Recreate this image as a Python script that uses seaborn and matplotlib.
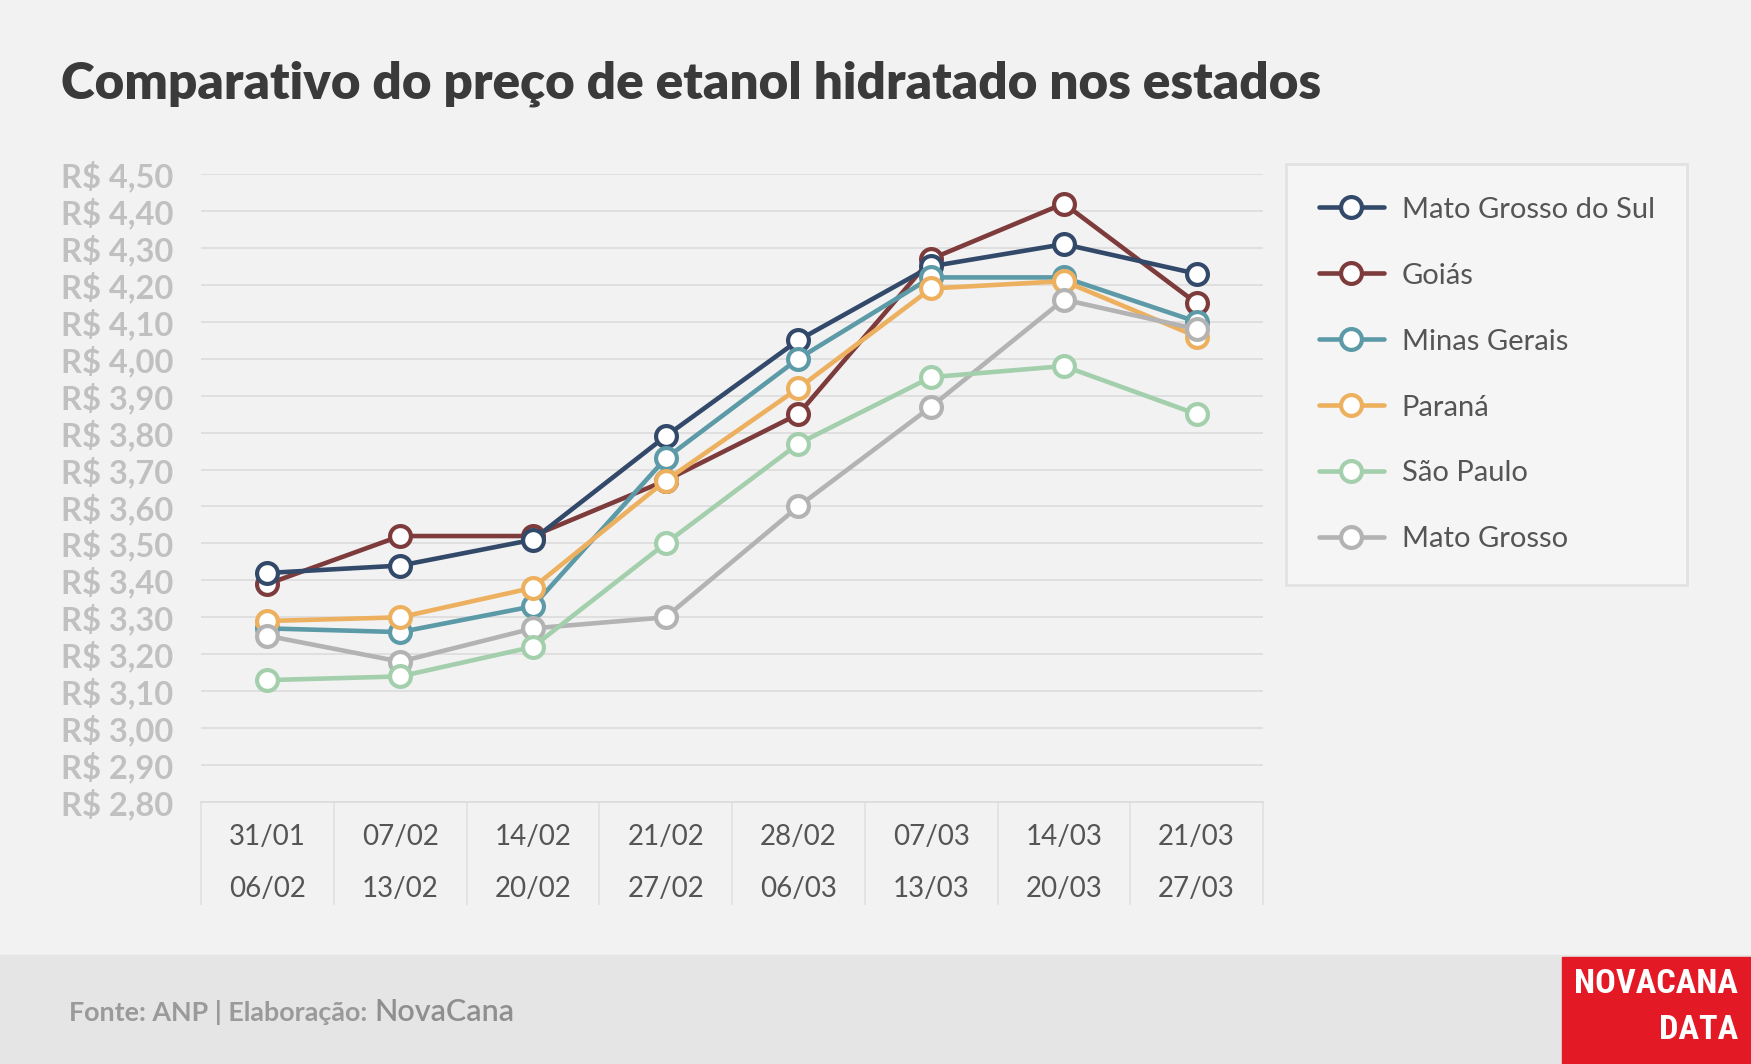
import matplotlib
matplotlib.use("Agg")
import matplotlib.pyplot as plt
import seaborn as sns
import pandas as pd
from matplotlib import font_manager
from matplotlib.lines import Line2D
from matplotlib.patches import Rectangle

# ==========================
# DADOS (preço médio R$/litro)
# ==========================
semanas = ["31/01\n06/02", "07/02\n13/02", "14/02\n20/02", "21/02\n27/02",
           "28/02\n06/03", "07/03\n13/03", "14/03\n20/03", "21/03\n27/03"]

mato_grosso_do_sul = [3.42, 3.44, 3.51, 3.79, 4.05, 4.25, 4.31, 4.23]
goias = [3.39, 3.52, 3.52, 3.67, 3.85, 4.27, 4.42, 4.15]
minas_gerais = [3.27, 3.26, 3.33, 3.73, 4.00, 4.22, 4.22, 4.10]
parana = [3.29, 3.30, 3.38, 3.67, 3.92, 4.19, 4.21, 4.06]
sao_paulo = [3.13, 3.14, 3.22, 3.50, 3.77, 3.95, 3.98, 3.85]
mato_grosso = [3.25, 3.18, 3.27, 3.30, 3.60, 3.87, 4.16, 4.08]

estados = ["Mato Grosso do Sul", "Goiás", "Minas Gerais", "Paraná", "São Paulo", "Mato Grosso"]
cores = ["#32496a", "#7e3b3b", "#5c9aa7", "#ecb05f", "#a3cfac", "#b3b3b3"]
camadas = [3, 2, 4, 5, 7, 6]  # ordem de desenho

y_ticks = [2.8, 2.9, 3.0, 3.1, 3.2, 3.3, 3.4, 3.5, 3.6, 3.7, 3.8, 3.9,
           4.0, 4.1, 4.2, 4.3, 4.4, 4.5]

valores = [mato_grosso_do_sul, goias, minas_gerais, parana, sao_paulo, mato_grosso]
df = pd.concat(
    [pd.DataFrame({"semana": semanas, "preco": v, "estado": e}) for e, v in zip(estados, valores)],
    ignore_index=True,
)

# ==========================
# ESTILO
# ==========================
sns.set_style("white")
plt.rcParams["font.family"] = ["Lato", "DejaVu Sans"]

fundo = "#f2f2f2"
fig = plt.figure(figsize=(17.51, 10.64), dpi=100, facecolor=fundo)
ax = fig.add_axes([0.1148, 0.2462, 0.6065, 0.5903], facecolor=fundo)

# ==========================
# LINHAS
# ==========================
sns.lineplot(
    data=df, x="semana", y="preco", hue="estado", hue_order=estados,
    palette=cores, marker="o", markersize=15, markerfacecolor="white",
    markeredgewidth=3, linewidth=3.3, legend=False, sort=False, ax=ax,
)
for linha, z in zip(ax.lines, camadas):
    linha.set_markeredgecolor(linha.get_color())
    linha.set_zorder(z)

ax.set_xlim(-0.5, 7.5)
ax.set_ylim(2.8, 4.5)
ax.set_xlabel("")
ax.set_ylabel("")

ax.set_yticks(y_ticks)
ax.set_yticklabels([f"R$ {v:.2f}".replace(".", ",") for v in y_ticks],
                   fontsize=23.5, fontweight="bold", color="#c0c0c0")
ax.set_xticks(range(len(semanas)))
ax.set_xticklabels(semanas, fontsize=20, color="#555555", linespacing=2.25)
ax.set_xticks([i - 0.5 for i in range(len(semanas) + 1)], minor=True)

ax.tick_params(axis="y", length=0, pad=20)
ax.tick_params(axis="x", which="major", length=0, pad=15.5)
ax.tick_params(axis="x", which="minor", bottom=True, length=74, width=1.2,
               color="#e0e0e0")

ax.yaxis.grid(True, color="#dcdcdc", linewidth=1.2)
ax.xaxis.grid(False)
for lado in ["left", "right", "top"]:
    ax.spines[lado].set_visible(False)
ax.spines["bottom"].set_color("#dcdcdc")
ax.spines["bottom"].set_linewidth(1.2)

# ==========================
# LEGENDA
# ==========================
handles = [
    Line2D([0], [0], color=c, lw=3.3, marker="o", markersize=15,
           markerfacecolor="white", markeredgecolor=c, markeredgewidth=3)
    for c in cores
]
leg = fig.legend(
    handles, estados, loc="upper left", bbox_to_anchor=(0.7344, 0.8459),
    frameon=True, fancybox=False, fontsize=21, labelcolor="#555555",
    handlelength=2.25, handletextpad=0.6, labelspacing=1.37,
    borderpad=1.12, borderaxespad=0,
)
leg.get_frame().set_facecolor("#f7f7f7")
leg.get_frame().set_edgecolor("#dedede")
leg.get_frame().set_linewidth(2)

# ==========================
# TÍTULO E RODAPÉ
# ==========================
fig.text(0.035, 0.921, "Comparativo do preço de etanol hidratado nos estados",
         fontsize=36.9, fontweight="heavy", color="#3a3a3a", va="center")

fig.patches.append(Rectangle((0, 0), 1, 0.1024, transform=fig.transFigure,
                             color="#e5e5e5", zorder=0))
fig.text(0.0394, 0.0404, "Fonte: ANP | Elaboração:", fontsize=19.4,
         fontweight="bold", color="#9a9a9a", va="baseline")
fig.text(0.2136, 0.0404, "NovaCana", fontsize=22, fontweight="semibold",
         color="#8f8f8f", va="baseline")

# logo
fig.patches.append(Rectangle((0.892, 0), 0.108, 0.1006, transform=fig.transFigure,
                             color="#e31a25", zorder=1))
nomes = {f.name for f in font_manager.fontManager.ttflist}
fonte_logo = next((n for n in ["Liberation Sans Narrow", "Roboto Condensed",
                               "Open Sans Condensed", "DejaVu Sans Condensed"]
                   if n in nomes), "DejaVu Sans")
t1 = fig.text(0.9926, 0.0755, "NOVACANA", fontsize=24, fontweight="bold",
              family=fonte_logo, color="white", ha="right", va="center",
              fontstretch="condensed")
t2 = fig.text(0.9926, 0.0320, "DATA", fontsize=24, fontweight="bold",
              family=fonte_logo, color="white", ha="right", va="center",
              fontstretch="condensed")
# ajusta o tamanho para caber na caixa vermelha
fig.canvas.draw()
largura = t1.get_window_extent().width
novo = 24 * 164 / largura
t1.set_fontsize(novo)
t2.set_fontsize(novo)

fig.savefig("out.png", dpi=100, facecolor=fundo)
